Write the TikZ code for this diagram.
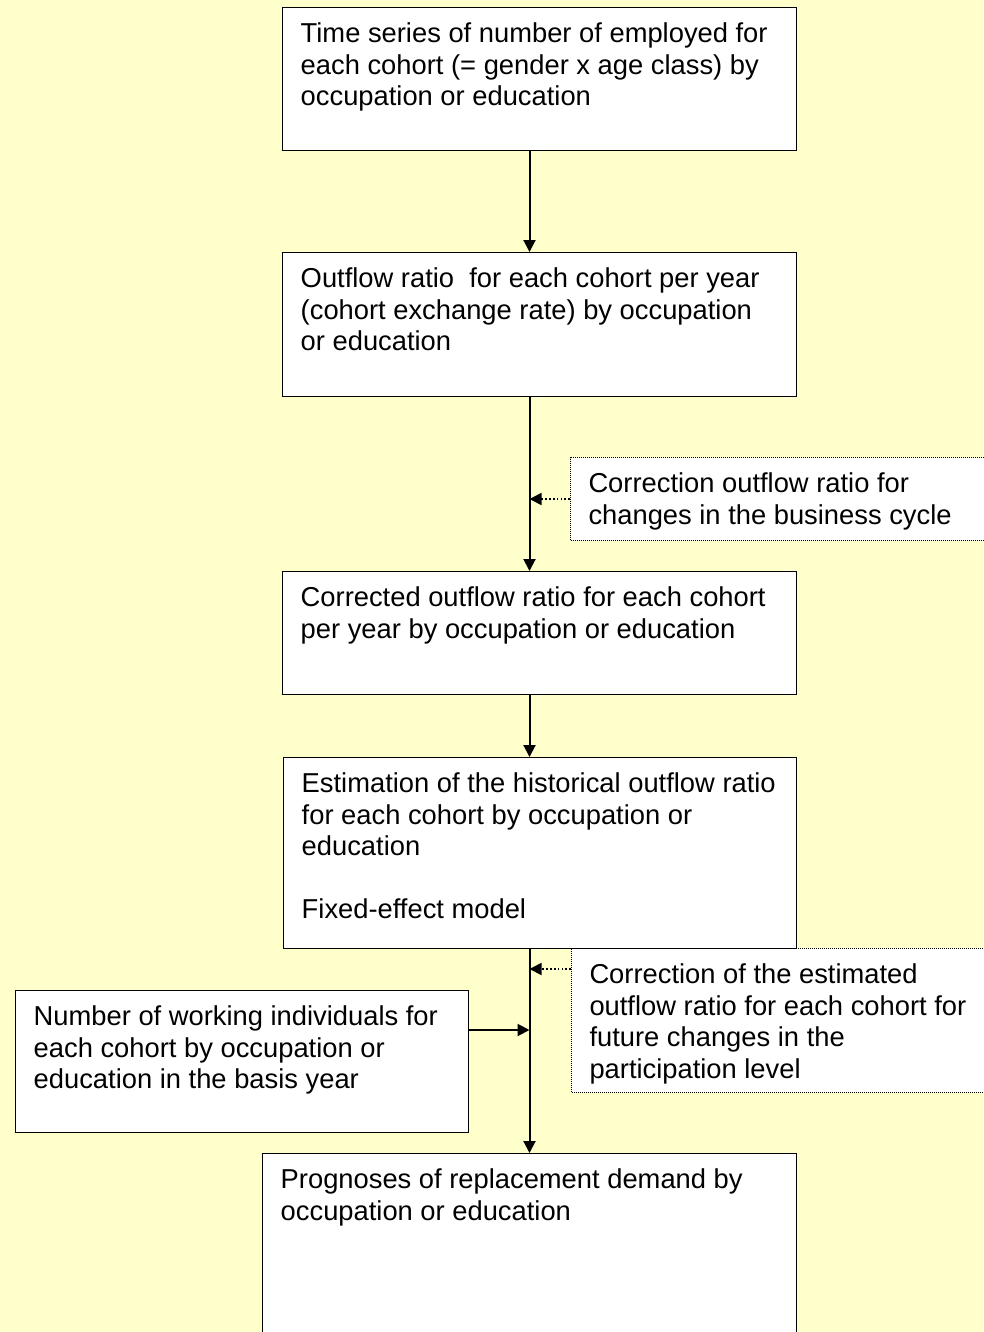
\documentclass[tikz,border=0pt]{standalone}
\usepackage{fontspec}
\setmainfont{Liberation Sans}
\usetikzlibrary{arrows.meta}
\definecolor{paleyellow}{HTML}{FFFFCC}
\newcommand{\stagetext}[3]{\parbox[c][#2][t]{#1}{\raggedright #3}}

\begin{document}
\begin{tikzpicture}[x=0.75pt,y=-0.75pt,font=\fontsize{20.5}{23.6}\selectfont,
  stage/.style={draw,fill=white,line width=1.1pt,anchor=north west,inner xsep=13.5pt,inner ysep=11.5pt},
  note/.style={stage,line width=0.75pt,dash pattern=on 0.75pt off 0.75pt},
  flow/.style={line width=1.5pt,-{Triangle[length=9pt,width=9pt]}},
  hint/.style={line width=1.3pt,dash pattern=on 1.3pt off 1.6pt,-{Triangle[length=9pt,width=9pt]}}]
  \path[use as bounding box,fill=paleyellow] (0,0) rectangle (983,1332);
  \coordinate (spine) at (529.5,0);
  % correction notes on the right
  \node[note] (c1) at (570,457) {\stagetext{288pt}{39.25pt}{Correction outflow ratio for\\ changes in the business cycle}};
  \node[note] (c2) at (571,948) {\stagetext{290pt}{85pt}{Correction of the estimated\\ outflow ratio for each cohort for\\ future changes in the\\ participation level}};
  % main chain
  \node[stage] (b1) at (282,7) {\stagetext{358.5pt}{84.25pt}{Time series of number of employed for\\ each cohort (= gender x age class) by\\ occupation or education}};
  \node[stage] (b2) at (282,252) {\stagetext{358.5pt}{85pt}{Outflow ratio\ \ for each cohort per year\\ (cohort exchange rate) by occupation\\ or education}};
  \node[stage] (b3) at (282,571) {\stagetext{358.5pt}{69.25pt}{Corrected outflow ratio for each cohort\\ per year by occupation or education}};
  \node[stage] (b4) at (283,757) {\stagetext{357.75pt}{120.25pt}{Estimation of the historical outflow ratio\\ for each cohort by occupation or\\ education\\[23.6pt] Fixed-effect model}};
  \node[stage] (w) at (15,990) {\stagetext{312.75pt}{83.5pt}{Number of working individuals for\\ each cohort by occupation or\\ education in the basis year}};
  \node[stage] (b5) at (262,1153) {\stagetext{373.5pt}{127pt}{Prognoses of replacement demand by\\ occupation or education}};
  % connectors
  \draw[flow] (b1.south -| spine) -- (b2.north -| spine);
  \draw[flow] (b2.south -| spine) -- (b3.north -| spine);
  \draw[flow] (b3.south -| spine) -- (b4.north -| spine);
  \draw[flow] (b4.south -| spine) -- (b5.north -| spine);
  \draw[hint] (c1.west) -- (c1.west -| spine);
  \coordinate (c2in) at ([yshift=-15.75pt]c2.north west);
  \draw[hint] (c2in) -- (c2in -| spine);
  \coordinate (wout) at ([yshift=-30pt]w.north east);
  \draw[flow] (wout) -- (wout -| spine);
\end{tikzpicture}
\end{document}
